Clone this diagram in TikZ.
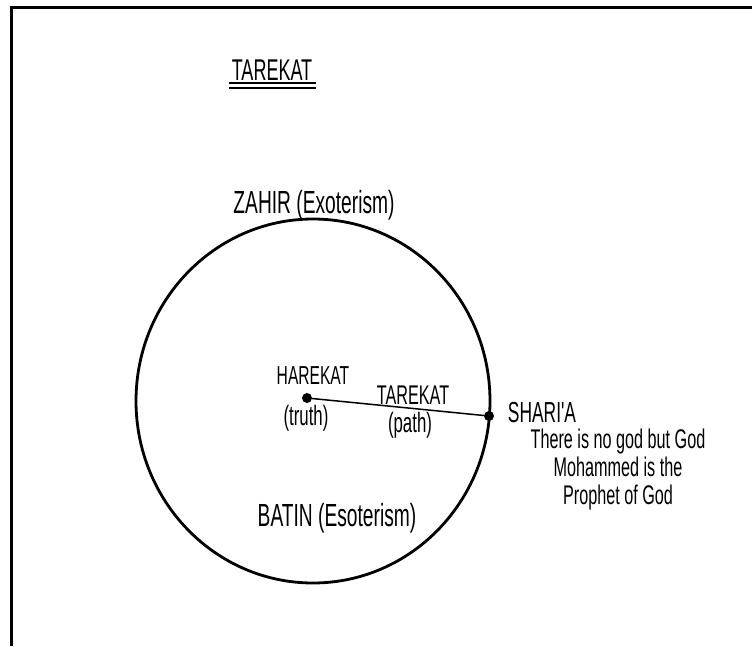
\documentclass[tikz,border=0pt]{standalone}
\usepackage{fontspec}
\newfontfamily\hand[FakeStretch=0.6]{Liberation Sans}
\usetikzlibrary{positioning}
\tikzset{
  hand/.style={font=\hand\fontsize{#1pt}{#1pt}\selectfont,inner sep=0pt,align=center},
  hand/.default=26,
  dot/.style={circle,fill=black,inner sep=0pt,minimum size=10pt},
  ring/.style={draw,line width=2.8pt},
  spoke/.style={draw,line width=1.5pt},
  frame/.style={line width=3pt}
}

\begin{document}
\begin{tikzpicture}[x=1pt,y=-1pt]
    \useasboundingbox (0,0) rectangle (752,646);
    \draw[frame] (11.5,646) -- (11.5,7) -- (752,7);
    \node[hand=30] (title) at (272,70) {TAREKAT};
    \draw[line width=2pt] (229,83) -- (316,83);
    \draw[line width=2pt] (229,88) -- (316,88);
    \draw[ring] (313,401) ellipse [x radius=177pt, y radius=182pt];
    \node[hand=32] (zahir) at (314,205) {ZAHIR (Exoterism)};
    \node[hand=32] (batin) at (337,518) {BATIN (Esoterism)};
    \node[dot] (hq) at (307,398) {};
    \node[dot] (sh) at (489,416) {};
    \draw[spoke] (hq) -- (sh);
    \node[hand=26] (harekat) at (313,376) {HAREKAT};
    \node[hand=28] (truth) at (306,418) {(truth)};
    \node[hand=27] (tarekat) at (413,395) {TAREKAT};
    \node[hand=28] (path) at (410,425) {(path)};
    \node[hand=29] (sharia) at (542,413) {SHARI'A};
    \node[hand,font=\hand\fontsize{27pt}{28pt}\selectfont] (creed) at (618,470)
      {There is no god but God\\Mohammed is the\\Prophet of God};
\end{tikzpicture}
\end{document}
